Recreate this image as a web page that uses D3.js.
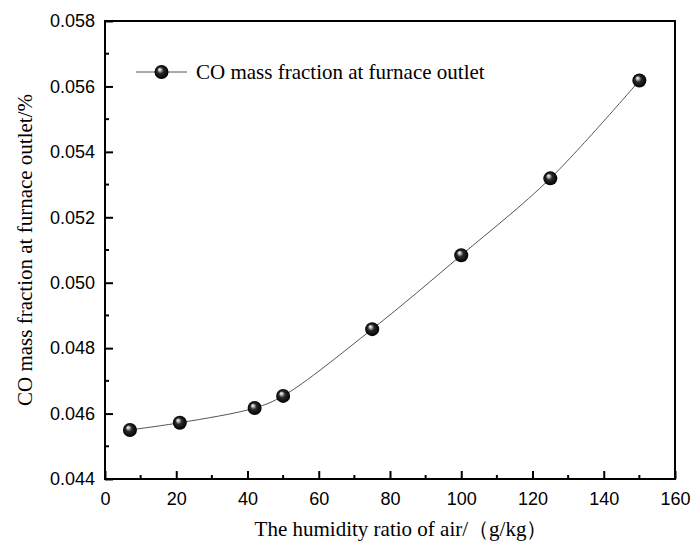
<!DOCTYPE html>
<html>
<head>
<meta charset="utf-8">
<script src="https://cdn.jsdelivr.net/npm/d3@7"></script>
<style>
  body { margin: 0; background: #fff; }
  svg { display: block; }
</style>
</head>
<body>
<div id="chart"></div>
<script>
const humidity = [7, 21, 42, 50, 75, 100, 125, 150];
const coFraction = [0.04550, 0.04572, 0.04617, 0.04654, 0.04858, 0.05084, 0.05319, 0.05618];
const xTicks = [0, 20, 40, 60, 80, 100, 120, 140, 160];
const yTicks = [0.044, 0.046, 0.048, 0.050, 0.052, 0.054, 0.056, 0.058];
const seriesName = "CO mass fraction at furnace outlet";

const W = 692, H = 546;
const margin = { top: 21, right: 17, bottom: 67, left: 105 };
const width = W - margin.left - margin.right;
const height = H - margin.top - margin.bottom;
const serif = "'Liberation Serif', 'Times New Roman', serif";
const sans = "'Liberation Sans', Arial, sans-serif";

const svg = d3.select("#chart").append("svg")
  .attr("width", W)
  .attr("height", H);

const defs = svg.append("defs");
const grad = defs.append("radialGradient")
  .attr("id", "ball")
  .attr("cx", "50%").attr("cy", "50%").attr("r", "50%")
  .attr("fx", "35%").attr("fy", "30%");
grad.append("stop").attr("offset", "0%").attr("stop-color", "#ffffff");
grad.append("stop").attr("offset", "18%").attr("stop-color", "#bdbdbd");
grad.append("stop").attr("offset", "45%").attr("stop-color", "#2a2a2a");
grad.append("stop").attr("offset", "100%").attr("stop-color", "#000000");

const g = svg.append("g")
  .attr("transform", `translate(${margin.left},${margin.top})`);

const x = d3.scaleLinear().domain([0, 160]).range([0, width]);
const y = d3.scaleLinear().domain([0.044, 0.058]).range([height, 0]);

// frame
g.append("rect")
  .attr("width", width)
  .attr("height", height)
  .attr("fill", "none")
  .attr("stroke", "#000")
  .attr("stroke-width", 2);

// minor ticks
const xMinor = d3.range(10, 160, 20);
const yMinor = d3.range(0.045, 0.058, 0.002);

const xAxis = g.append("g")
  .attr("transform", `translate(0,${height})`)
  .call(d3.axisBottom(x).tickValues(xTicks).tickFormat(d3.format("d"))
    .tickSizeInner(-8).tickSizeOuter(0).tickPadding(13));
xAxis.selectAll(".tick text")
  .style("font-family", sans)
  .style("font-size", "18px")
  .attr("fill", "#000");
xAxis.select(".domain").remove();
xAxis.selectAll(".tick line").attr("stroke-width", 2);

const yAxis = g.append("g")
  .call(d3.axisLeft(y).tickValues(yTicks).tickFormat(d3.format(".3f"))
    .tickSizeInner(-8).tickSizeOuter(0).tickPadding(10));
yAxis.selectAll(".tick text")
  .style("font-family", sans)
  .style("font-size", "18px")
  .attr("fill", "#000");
yAxis.select(".domain").remove();
yAxis.selectAll(".tick line").attr("stroke-width", 2);

g.append("g").selectAll("line")
  .data(xMinor).enter().append("line")
  .attr("x1", d => x(d)).attr("x2", d => x(d))
  .attr("y1", height).attr("y2", height - 4)
  .attr("stroke", "#000").attr("stroke-width", 2);

g.append("g").selectAll("line")
  .data(yMinor).enter().append("line")
  .attr("y1", d => y(d)).attr("y2", d => y(d))
  .attr("x1", 0).attr("x2", 4)
  .attr("stroke", "#000").attr("stroke-width", 2);

// axis titles
svg.append("text")
  .attr("x", 401)
  .attr("y", 536)
  .attr("text-anchor", "middle")
  .style("font-family", serif)
  .style("font-size", "21px")
  .text("The humidity ratio of air/（g/kg）");

svg.append("text")
  .attr("transform", "translate(32,250) rotate(-90)")
  .attr("text-anchor", "middle")
  .style("font-family", serif)
  .style("font-size", "21px")
  .text("CO mass fraction at furnace outlet/%");

// data line
const data = humidity.map((h, i) => ({ h: h, v: coFraction[i] }));
g.append("path")
  .datum(data)
  .attr("fill", "none")
  .attr("stroke", "#555")
  .attr("stroke-width", 1)
  .attr("d", d3.line()
    .x(d => x(d.h))
    .y(d => y(d.v))
    .curve(d3.curveCatmullRom));

g.selectAll(".dot")
  .data(data)
  .enter().append("circle")
  .attr("class", "dot")
  .attr("cx", d => x(d.h))
  .attr("cy", d => y(d.v))
  .attr("r", 7)
  .attr("fill", "url(#ball)");

// legend
const legend = svg.append("g").attr("transform", "translate(136,72)");
legend.append("line")
  .attr("x1", 0).attr("x2", 51)
  .attr("y1", 0).attr("y2", 0)
  .attr("stroke", "#555").attr("stroke-width", 1);
legend.append("circle")
  .attr("cx", 25.5).attr("cy", 0).attr("r", 7)
  .attr("fill", "url(#ball)");
legend.append("text")
  .attr("x", 60)
  .attr("y", 7)
  .style("font-family", serif)
  .style("font-size", "21px")
  .text(seriesName);
</script>
</body>
</html>
